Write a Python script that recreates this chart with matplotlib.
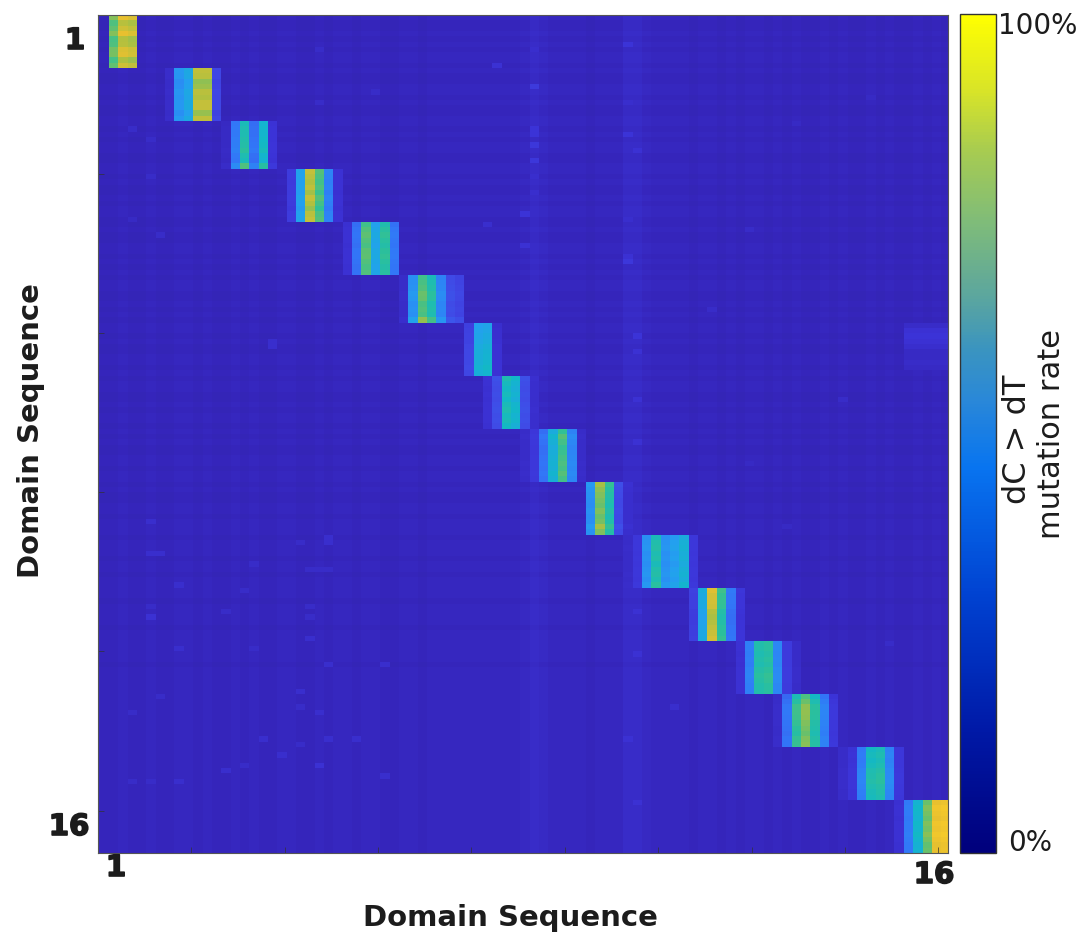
import numpy as np
import matplotlib
matplotlib.use("Agg")
import matplotlib.pyplot as plt
import matplotlib.patheffects as pe
from matplotlib.cm import ScalarMappable
from matplotlib.colors import LinearSegmentedColormap, Normalize

# rows in each domain block, top to bottom
block_rows = [10, 10, 9, 10, 10, 9, 10, 10, 10, 10, 10, 10, 10, 10, 10, 10]

block_start = [2, 8, 14, 21, 27, 33, 40, 42, 46, 53, 57, 64, 69, 73, 80, 86]
block_levels = [
    [0.60, 0.72, 0.70],
    [0.07, 0.33, 0.38, 0.68, 0.68, 0.15],
    [0.06, 0.27, 0.50, 0.25, 0.45, 0.10],
    [0.12, 0.36, 0.68, 0.56, 0.28, 0.09],
    [0.09, 0.25, 0.58, 0.38, 0.52, 0.26],
    [0.07, 0.33, 0.58, 0.50, 0.30, 0.17, 0.15],
    [0.15, 0.40, 0.42, 0.09],
    [0.09, 0.17, 0.47, 0.43, 0.17, 0.08],
    [0.07, 0.11, 0.25, 0.42, 0.56, 0.30, 0.07],
    [0.32, 0.62, 0.50, 0.16, 0.08],
    [0.07, 0.11, 0.33, 0.50, 0.33, 0.36, 0.42, 0.11],
    [0.13, 0.38, 0.70, 0.52, 0.25, 0.10],
    [0.09, 0.28, 0.50, 0.52, 0.30, 0.12, 0.07],
    [0.07, 0.25, 0.53, 0.62, 0.50, 0.28, 0.11],
    [0.07, 0.10, 0.28, 0.48, 0.50, 0.30, 0.11],
    [0.09, 0.27, 0.44, 0.62, 0.78, 0.80],
]
# row to row change inside each block
block_mods = [
    [1.06, 0.96, 1.00, 1.06, 0.95, 0.96, 1.03, 1.04, 0.94, 1.00],
    [1.03, 1.02, 0.95, 0.97, 1.02, 1.00, 1.04, 1.04, 0.96, 1.03],
    [0.96, 0.98, 0.98, 1.00, 1.02, 1.05, 0.98, 0.96, 1.15],
    [1.04, 1.02, 1.00, 1.03, 0.98, 1.04, 1.00, 0.96, 1.02, 1.04],
    [0.96, 1.00, 1.03, 1.00, 0.98, 1.02, 1.03, 1.00, 0.98, 1.00],
    [0.96, 0.98, 1.00, 1.05, 1.04, 0.98, 1.00, 0.98, 1.12],
    [0.90, 0.92, 0.94, 0.96, 1.00, 1.02, 1.03, 1.05, 1.08, 1.04],
    [1.04, 1.00, 0.98, 1.00, 0.97, 1.02, 1.04, 1.00, 1.02, 0.98],
    [0.96, 1.04, 1.00, 0.96, 0.98, 1.00, 1.02, 1.00, 1.04, 1.00],
    [1.08, 1.04, 1.02, 1.00, 0.98, 1.02, 0.98, 1.00, 1.08, 1.02],
    [0.96, 1.00, 1.02, 0.98, 1.00, 0.96, 1.00, 1.02, 0.98, 1.04],
    [1.07, 1.04, 1.04, 1.03, 0.98, 0.96, 0.98, 1.00, 1.02, 1.04],
    [1.00, 1.00, 0.98, 1.00, 0.98, 1.02, 1.04, 1.03, 1.00, 1.00],
    [0.92, 0.98, 1.04, 1.05, 1.04, 1.02, 1.00, 0.98, 1.02, 1.03],
    [0.96, 0.98, 0.96, 0.98, 1.02, 1.04, 1.05, 1.02, 1.00, 0.98],
    [0.98, 1.02, 1.00, 0.98, 1.02, 1.00, 1.03, 1.00, 0.97, 0.98],
]

# background level per column and per row
bg_col = [
    0.03, 0.02, 0.02, 0.03, 0.02, 0.02, 0.03, 0.02, 0.02, 0.03, 0.03, 0.02, 0.03,
    0.02, 0.02, 0.03, 0.02, 0.03, 0.02, 0.02, 0.03, 0.03, 0.02, 0.02, 0.03, 0.02,
    0.03, 0.03, 0.02, 0.03, 0.03, 0.02, 0.02, 0.03, 0.03, 0.02, 0.03, 0.03, 0.03,
    0.03, 0.03, 0.03, 0.03, 0.03, 0.03, 0.03, 0.035, 0.05, 0.04, 0.03, 0.03, 0.03,
    0.03, 0.02, 0.03, 0.03, 0.03, 0.05, 0.05, 0.035, 0.03, 0.03, 0.03, 0.03, 0.02,
    0.03, 0.03, 0.02, 0.03, 0.02, 0.03, 0.03, 0.02, 0.03, 0.02, 0.03, 0.02, 0.02,
    0.03, 0.02, 0.03, 0.02, 0.02, 0.03, 0.02, 0.03, 0.02, 0.02, 0.03, 0.02, 0.03,
    0.02,
]
bg_row = [
    0.02, 0.01, 0.01, 0.02, 0.01, 0.02, 0.01, 0.02, 0.02, 0.01, 0.02, 0.01, 0.01,
    0.02, 0.02, 0.01, 0.02, 0.01, 0.01, 0.02, 0.02, 0.01, 0.02, 0.01, 0.02, 0.02,
    0.01, 0.01, 0.02, 0.02, 0.01, 0.02, 0.01, 0.01, 0.02, 0.01, 0.02, 0.02, 0.01,
    0.01, 0.02, 0.01, 0.01, 0.02, 0.02, 0.01, 0.02, 0.01, 0.02, 0.01, 0.02, 0.02,
    0.01, 0.01, 0.02, 0.01, 0.02, 0.01, 0.02, 0.02, 0.01, 0.02, 0.01, 0.01, 0.02,
    0.02, 0.01, 0.02, 0.01, 0.02, 0.02, 0.01, 0.01, 0.02, 0.01, 0.02, 0.02, 0.01,
    0.02, 0.01, 0.02, 0.01, 0.01, 0.02, 0.02, 0.01, 0.02, 0.02, 0.01, 0.02, 0.01,
    0.01, 0.02, 0.02, 0.01, 0.02, 0.02, 0.02, 0.01, 0.02, 0.02, 0.02, 0.01, 0.02,
    0.02, 0.01, 0.02, 0.02, 0.02, 0.02, 0.01, 0.02, 0.02, 0.02, 0.02, 0.01, 0.02,
    0.02, 0.02, 0.02, 0.02, 0.02, 0.01, 0.02, 0.02, 0.02, 0.02, 0.02, 0.02, 0.02,
    0.02, 0.02, 0.02, 0.02, 0.02, 0.02, 0.02, 0.02, 0.02, 0.02, 0.02, 0.02, 0.02,
    0.02, 0.02, 0.02, 0.02, 0.02, 0.02, 0.02, 0.02, 0.02, 0.02, 0.02, 0.02, 0.02,
    0.02, 0.02,
]
# brighter single cells: row, column, level
spots = [
    # streak near column 47
    (13, 47, 0.12), (21, 47, 0.10), (22, 47, 0.10), (24, 47, 0.11), (27, 47, 0.11),
    (37, 46, 0.10), (43, 46, 0.09), (9, 43, 0.09), (39, 42, 0.08), (30, 47, 0.08),
    (33, 47, 0.08), (6, 47, 0.08),
    # streak near column 57
    (5, 57, 0.10), (22, 57, 0.10), (25, 58, 0.09), (38, 57, 0.08), (46, 57, 0.11),
    (45, 57, 0.09), (16, 57, 0.08), (60, 58, 0.10), (63, 58, 0.09), (72, 58, 0.09),
    (80, 58, 0.09), (112, 58, 0.09), (120, 58, 0.09), (136, 57, 0.09), (148, 58, 0.09),
    # left part
    (21, 4, 0.07), (23, 6, 0.07), (6, 24, 0.07), (14, 30, 0.07), (30, 6, 0.07),
    (16, 24, 0.07), (38, 4, 0.06), (41, 7, 0.07), (61, 19, 0.08), (62, 19, 0.08),
    (101, 6, 0.08), (101, 7, 0.08), (95, 6, 0.08), (98, 25, 0.08), (99, 25, 0.08),
    (99, 22, 0.07), (103, 17, 0.07), (104, 23, 0.07), (104, 24, 0.07), (104, 25, 0.07),
    (107, 9, 0.08), (108, 16, 0.07), (113, 6, 0.09), (111, 6, 0.07), (112, 14, 0.07),
    (113, 23, 0.07), (111, 23, 0.07), (119, 9, 0.08), (119, 17, 0.07), (117, 23, 0.08),
    (122, 25, 0.08), (122, 31, 0.08), (127, 22, 0.08), (128, 7, 0.07), (131, 4, 0.07),
    (130, 22, 0.07), (131, 24, 0.08), (136, 18, 0.08), (136, 28, 0.08), (136, 25, 0.08),
    (137, 22, 0.07), (139, 20, 0.08), (141, 16, 0.07), (141, 24, 0.09), (142, 14, 0.08),
    (144, 6, 0.07), (144, 4, 0.07), (144, 9, 0.08), (143, 31, 0.08),
    # right part
    (40, 70, 0.07), (72, 80, 0.07), (96, 74, 0.06), (110, 68, 0.07), (130, 62, 0.08),
    (20, 75, 0.06), (55, 66, 0.07), (84, 70, 0.06), (15, 83, 0.06), (118, 85, 0.07),
]
# faint patch at the right edge: rows and columns
patch_rows = [58, 59, 60, 61, 62, 63, 64, 65, 66]
patch_cols = [87, 88, 89, 90, 91]
patch_level = [0.07, 0.09, 0.10, 0.09, 0.08, 0.06, 0.06, 0.07, 0.06]

heat_stops = [(0.00, "#3224ae"), (0.04, "#3626bc"), (0.10, "#3c34d8"), (0.16, "#4049e6"),
              (0.26, "#3278f8"), (0.36, "#24a0f0"), (0.45, "#12b8c8"), (0.53, "#2cc09c"),
              (0.60, "#62c070"), (0.68, "#b0c040"), (0.76, "#e8c030"), (0.86, "#fcd028"),
              (1.00, "#fcfc10")]
bar_stops = [(0.00, "#00007c"), (0.15, "#001aa8"), (0.30, "#0040d0"), (0.46, "#0874f0"),
             (0.54, "#2a88d8"), (0.60, "#3a94c0"), (0.66, "#5aa5a0"), (0.755, "#80bc78"),
             (0.84, "#a8cc50"), (0.91, "#d8e428"), (1.00, "#ffff00")]

data = np.array(bg_row)[:, None] + np.array(bg_col)[None, :]
for r, c, v in spots:
    data[r, c] = v
top = 0
for n, start, levels, mod in zip(block_rows, block_start, block_levels, block_mods):
    data[top:top + n, start:start + len(levels)] = np.outer(mod, levels)
    top += n
for r, v in zip(patch_rows, patch_level):
    data[r, patch_cols] = v

W, H = 1085, 935


def box(x0, y0, x1, y1):
    return [x0 / W, 1 - y1 / H, (x1 - x0) / W, (y1 - y0) / H]


def put(x, y, s, **kw):
    return fig.text(x / W, 1 - y / H, s, ha="center", va="center", color="#1c1c1c", **kw)


fig = plt.figure(figsize=(W / 100, H / 100), dpi=100)
ax = fig.add_axes(box(98, 15, 948, 853))
heat_cmap = LinearSegmentedColormap.from_list("heat", heat_stops)
ax.imshow(data, cmap=heat_cmap, vmin=0, vmax=1, aspect="auto", interpolation="nearest")
ax.set_xlim(0.32, 91.33)
ax.set_ylim(157.5, -0.5)
ax.set_xticks(np.arange(10.3, 91, 10))
ax.set_yticks(np.arange(29.5, 157, 30))
ax.set_xticklabels([])
ax.set_yticklabels([])
ax.tick_params(direction="in", length=4, width=0.5, color="#333333", top=False, right=False)
for s in ax.spines.values():
    s.set_linewidth(0.8)
    s.set_color("#555555")

cax = fig.add_axes(box(960, 14, 996, 853))
bar_cmap = LinearSegmentedColormap.from_list("bar", bar_stops)
cb = fig.colorbar(ScalarMappable(Normalize(0, 1), bar_cmap), cax=cax)
cb.set_ticks([])
cb.outline.set_linewidth(1.0)
cb.outline.set_edgecolor("#333333")

# the end labels are heavier than plain bold
for x, y, s in [(75, 41, "1"), (69, 827, "16"), (116, 868, "1"), (934, 875, "16")]:
    t = put(x, y, s, fontsize=21, fontweight="bold")
    t.set_path_effects([pe.withStroke(linewidth=1.2, foreground="#1c1c1c")])
put(510, 918, "Domain Sequence", fontsize=21, fontweight="semibold")
put(31, 431, "Domain Sequence", fontsize=21, fontweight="semibold", rotation=90)
put(1038, 26, "100%", fontsize=20)
put(1030, 843, "0%", fontsize=20)
put(1018, 439, "dC > dT", fontsize=23, rotation=90)
put(1052, 434, "mutation rate", fontsize=22, rotation=90)

fig.savefig("out.png", dpi=100)
